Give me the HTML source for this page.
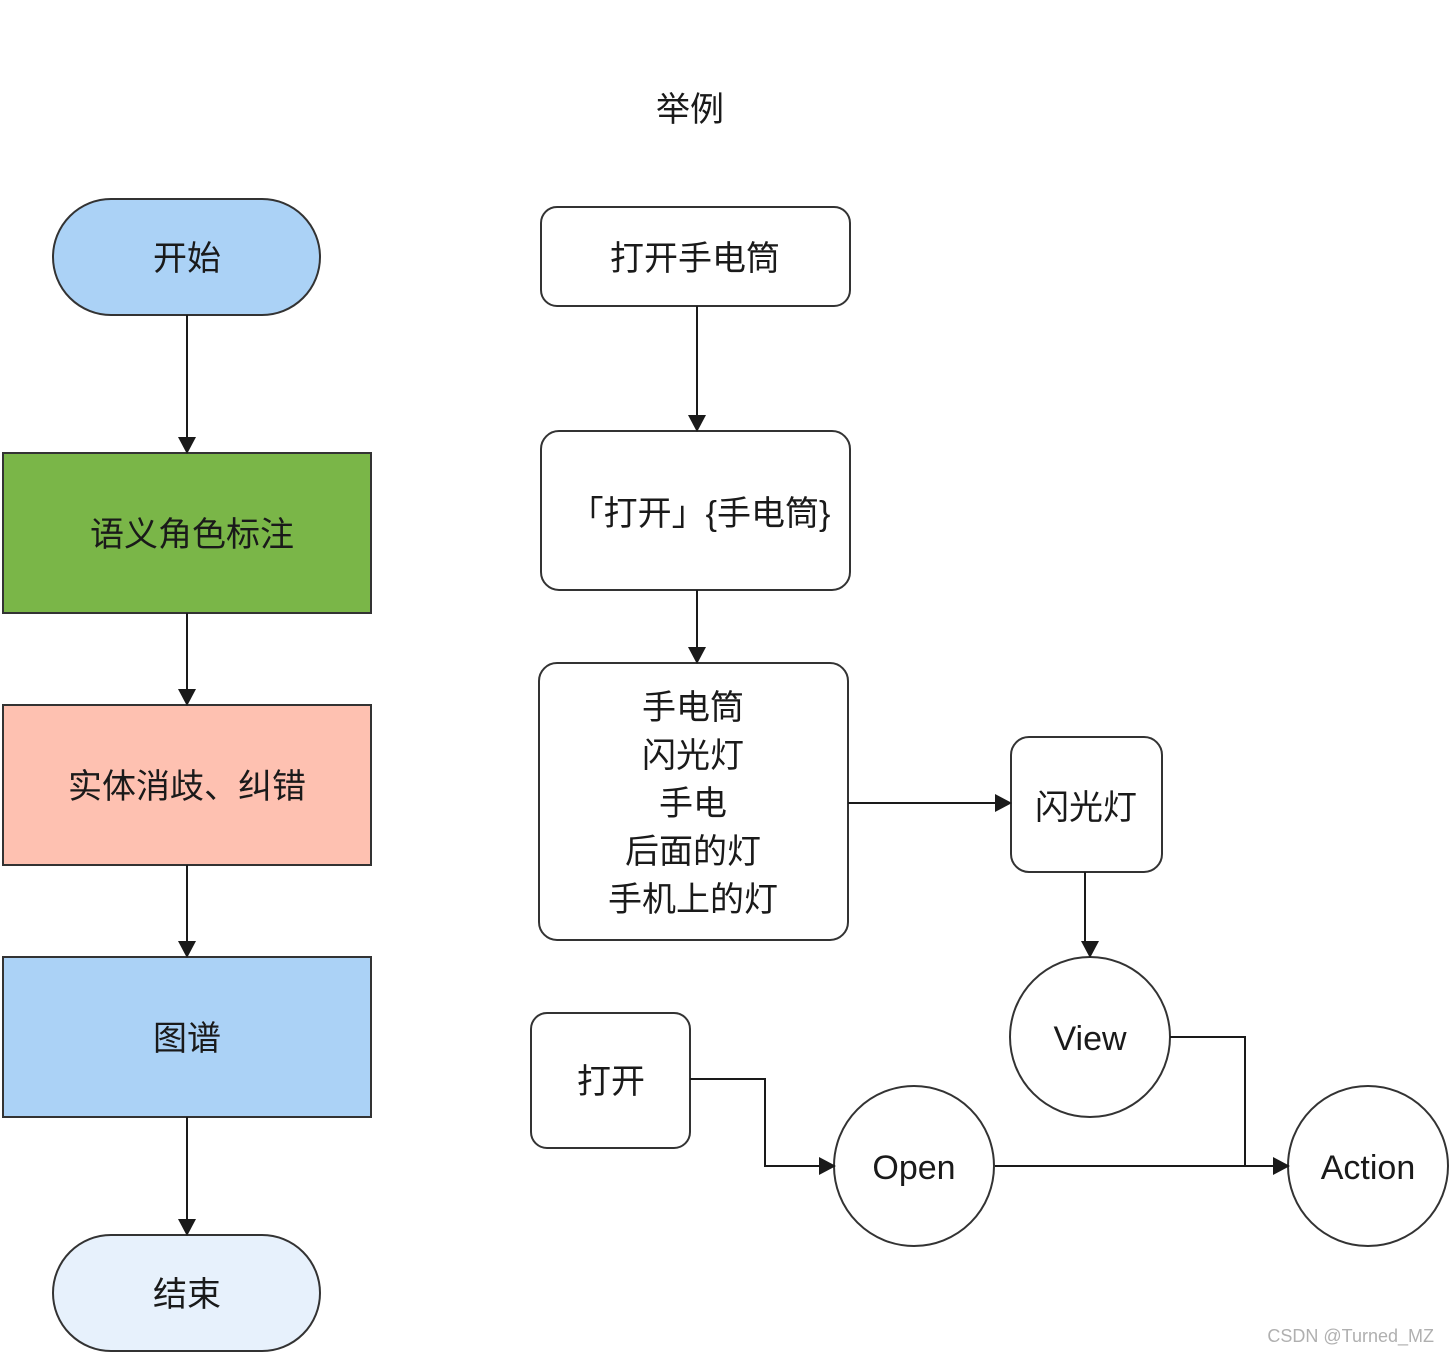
<!DOCTYPE html>
<html><head><meta charset="utf-8"><style>
html,body{margin:0;padding:0;background:#fff;}
svg{display:block}
text{font-family:"Liberation Sans","Noto Sans CJK SC",sans-serif;fill:#1a1a1a;}
</style></head><body>
<svg width="1450" height="1354" viewBox="0 0 1450 1354" xmlns="http://www.w3.org/2000/svg">
<g font-size="34" text-anchor="middle" dominant-baseline="central">
<rect x="53" y="199" width="267" height="116" rx="58" fill="#abd2f6" stroke="#333" stroke-width="2"/>
<rect x="3" y="453" width="368" height="160" fill="#7ab648" stroke="#333" stroke-width="2"/>
<rect x="3" y="705" width="368" height="160" fill="#fec1b1" stroke="#333" stroke-width="2"/>
<rect x="3" y="957" width="368" height="160" fill="#abd2f6" stroke="#333" stroke-width="2"/>
<rect x="53" y="1235" width="267" height="116" rx="58" fill="#e7f1fc" stroke="#333" stroke-width="2"/>
<rect x="541" y="207" width="309" height="99" rx="16" fill="#fff" stroke="#333" stroke-width="2"/>
<rect x="541" y="431" width="309" height="159" rx="18" fill="#fff" stroke="#333" stroke-width="2"/>
<rect x="539" y="663" width="309" height="277" rx="18" fill="#fff" stroke="#333" stroke-width="2"/>
<rect x="1011" y="737" width="151" height="135" rx="18" fill="#fff" stroke="#333" stroke-width="2"/>
<rect x="531" y="1013" width="159" height="135" rx="16" fill="#fff" stroke="#333" stroke-width="2"/>
<circle cx="1090" cy="1037" r="80" fill="#fff" stroke="#333" stroke-width="2"/>
<circle cx="914" cy="1166" r="80" fill="#fff" stroke="#333" stroke-width="2"/>
<circle cx="1368" cy="1166" r="80" fill="#fff" stroke="#333" stroke-width="2"/>
<g transform="translate(0,2)">
<text x="690" y="108">举例</text>
<text x="187" y="257">开始</text>
<text x="192" y="533">语义角色标注</text>
<text x="187" y="785">实体消歧、纠错</text>
<text x="187" y="1037">图谱</text>
<text x="187" y="1293">结束</text>
<text x="695" y="257">打开手电筒</text>
<text x="700" y="512">「打开」{手电筒}</text>
<text x="693" y="706">手电筒</text>
<text x="693" y="754">闪光灯</text>
<text x="693" y="802">手电</text>
<text x="693" y="850">后面的灯</text>
<text x="693" y="898">手机上的灯</text>
<text x="1086" y="806">闪光灯</text>
<text x="611" y="1080">打开</text>
<text x="1090" y="1037">View</text>
<text x="914" y="1166">Open</text>
<text x="1368" y="1166">Action</text>
</g>
</g>

<g stroke="#1a1a1a" stroke-width="2" fill="none">
<path d="M187 315V438"/><path d="M187 613V690"/><path d="M187 865V942"/><path d="M187 1117V1220"/>
<path d="M697 306V416"/><path d="M697 590V648"/>
<path d="M848 803H996"/>
<path d="M1085 872V942"/>
<path d="M690 1079H765V1166H820"/>
<path d="M995 1166H1274"/>
<path d="M1170 1037H1245V1166"/>
</g>
<g fill="#1a1a1a">
<path d="M178 437H196L187 454Z"/><path d="M178 689H196L187 706Z"/><path d="M178 941H196L187 958Z"/><path d="M178 1219H196L187 1236Z"/>
<path d="M688 415H706L697 432Z"/><path d="M688 647H706L697 664Z"/>
<path d="M995 794V812L1012 803Z"/>
<path d="M1081 941H1099L1090 958Z"/>
<path d="M819 1157V1175L836 1166Z"/>
<path d="M1273 1157V1175L1290 1166Z"/>
</g>
<text x="1434" y="1342" text-anchor="end" font-size="18" style="fill:#b0b0b0">CSDN @Turned_MZ</text>
</svg>
</body></html>
